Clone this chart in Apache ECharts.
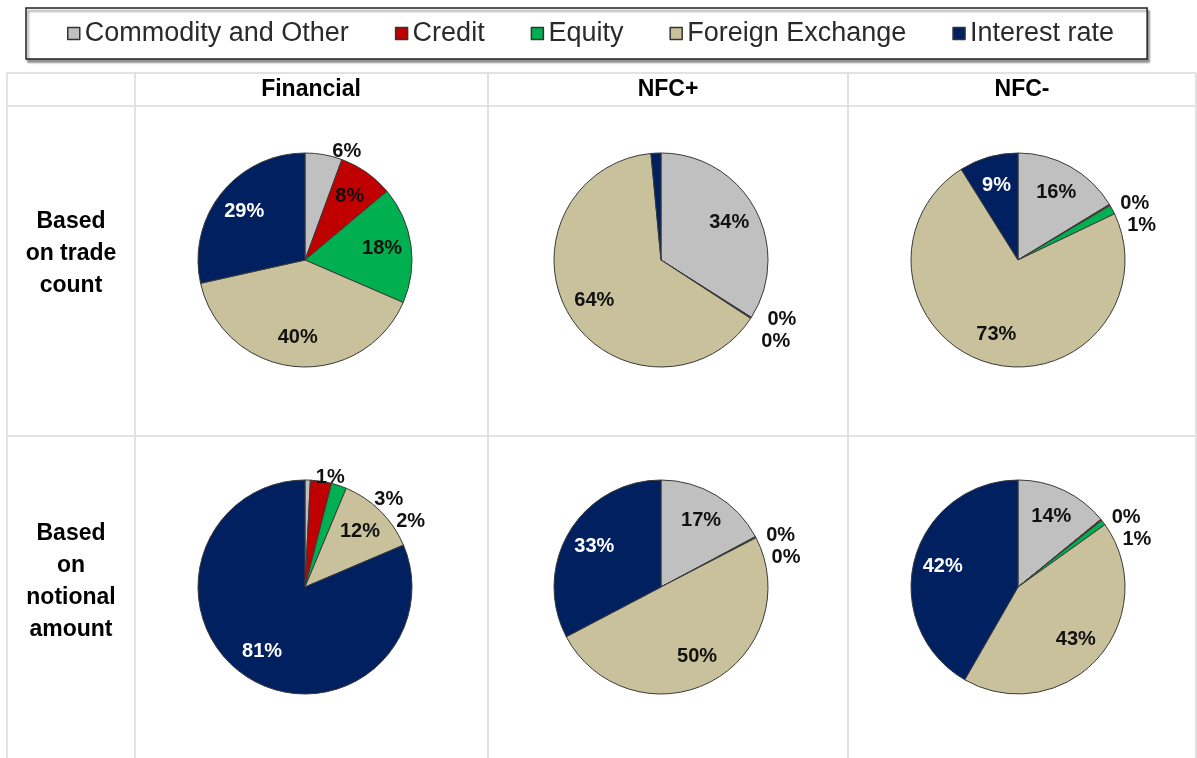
<!DOCTYPE html>
<html>
<head>
<meta charset="utf-8">
<script src="https://cdn.jsdelivr.net/npm/echarts@6/dist/echarts.min.js"></script>
<style>
  html, body { margin: 0; padding: 0; background: #fff; }
  #chart { width: 1197px; height: 758px; }
</style>
</head>
<body>
<div id="chart"></div>
<script>
  // asset classes, clockwise from 12 o'clock
  var categories = ['Commodity and Other', 'Credit', 'Equity', 'Foreign Exchange', 'Interest rate'];
  var columns = ['Financial', 'NFC+', 'NFC-'];
  var rows = ['Based\non trade\ncount', 'Based\non\nnotional\namount'];

  // shares in %, same order as categories
  var financialTrades = [5.6, 8.3, 17.6, 40.0, 28.5];
  var nfcPlusTrades = [34.0, 0.1, 0.1, 64.3, 1.5];
  var nfcMinusTrades = [16.3, 0.2, 1.4, 73.2, 8.9];
  var financialNotional = [0.8, 3.2, 2.3, 12.3, 81.4];
  var nfcPlusNotional = [17.2, 0.1, 0.1, 49.9, 32.7];
  var nfcMinusNotional = [14.1, 0.2, 0.8, 43.2, 41.7];

  var colors = ['#c0c0c0', '#c00000', '#00b050', '#c9c19b', '#002060'];

  var panels = [
    { values: financialTrades, col: 0, row: 0 },
    { values: nfcPlusTrades, col: 1, row: 0, noLabel: ['Interest rate'] },
    { values: nfcMinusTrades, col: 2, row: 0 },
    { values: financialNotional, col: 0, row: 1 },
    { values: nfcPlusNotional, col: 1, row: 1 },
    { values: nfcMinusNotional, col: 2, row: 1 }
  ];

  var pieX = [305, 661, 1018];
  var pieY = [260, 587];
  var R = 107;
  var font = '"Liberation Sans", Arial, sans-serif';

  var myChart = echarts.init(document.getElementById('chart'));

  function pct(p) {
    return Math.round(p.value) + '%';
  }

  // sectors + small outside labels
  var pieSeries = panels.map(function (p) {
    return {
      type: 'pie',
      center: [pieX[p.col], pieY[p.row]],
      radius: [0, R],
      startAngle: 90,
      silent: true,
      animation: false,
      avoidLabelOverlap: true,
      itemStyle: { borderColor: '#3a3a3a', borderWidth: 1 },
      label: {
        position: 'outside',
        formatter: pct,
        fontFamily: font,
        fontWeight: 'bold',
        fontSize: 20,
        color: '#111'
      },
      labelLine: { show: false, length: 3, length2: 3, lineStyle: { color: '#111', width: 1 } },
      data: categories.map(function (name, i) {
        var v = p.values[i];
        var small = v < 7 && !(p.noLabel && p.noLabel.indexOf(name) >= 0);
        return {
          name: name,
          value: v,
          itemStyle: { color: colors[i] },
          label: { show: small }
        };
      })
    };
  });

  // transparent ring that carries the inside labels a bit further out
  var labelSeries = panels.map(function (p) {
    return {
      type: 'pie',
      center: [pieX[p.col], pieY[p.row]],
      radius: [R * 0.4, R],
      startAngle: 90,
      silent: true,
      animation: false,
      itemStyle: { color: 'rgba(0,0,0,0)', borderWidth: 0 },
      label: {
        position: 'inside',
        formatter: pct,
        fontFamily: font,
        fontWeight: 'bold',
        fontSize: 20
      },
      labelLine: { show: false },
      data: categories.map(function (name, i) {
        var v = p.values[i];
        return {
          name: name,
          value: v,
          itemStyle: { color: 'rgba(0,0,0,0)' },
          label: { show: v >= 7, color: name == 'Interest rate' ? '#fff' : '#111' }
        };
      })
    };
  });

  // table lines
  var gridColor = '#e2e2e2';
  var lines = [
    [7, 73, 1196, 73], [7, 106, 1196, 106], [7, 436, 1196, 436],
    [7, 73, 7, 758], [135, 73, 135, 758], [488, 73, 488, 758], [848, 73, 848, 758], [1196, 73, 1196, 758]
  ];
  var graphics = lines.map(function (l) {
    return {
      type: 'line',
      silent: true,
      shape: { x1: l[0], y1: l[1], x2: l[2], y2: l[3] },
      style: { stroke: gridColor, lineWidth: 2 }
    };
  });
  var colCenter = [311, 668, 1022];
  columns.forEach(function (c, i) {
    graphics.push({
      type: 'text',
      silent: true,
      style: {
        text: c, x: colCenter[i], y: 90,
        align: 'center', verticalAlign: 'middle',
        font: 'bold 23px ' + font, fill: '#000'
      }
    });
  });
  rows.forEach(function (r, i) {
    graphics.push({
      type: 'text',
      silent: true,
      style: {
        text: r, x: 71, y: [254, 582][i],
        align: 'center', verticalAlign: 'middle',
        font: 'bold 23px ' + font, fill: '#000', lineHeight: 32
      }
    });
  });

  var option = {
    backgroundColor: '#fff',
    animation: false,
    legend: {
      data: categories,
      top: 8,
      left: 26,
      itemWidth: 12,
      itemHeight: 12,
      itemGap: 46,
      icon: 'rect',
      padding: [12, 33, 12, 41],
      borderColor: '#222',
      borderWidth: 1.5,
      shadowColor: 'rgba(0,0,0,0.4)',
      shadowBlur: 2,
      shadowOffsetX: 2,
      shadowOffsetY: 3,
      backgroundColor: '#fff',
      itemStyle: { borderColor: '#333', borderWidth: 1.5 },
      textStyle: {
        fontFamily: font,
        fontSize: 27,
        color: '#2a2a2a'
      },
      selectedMode: false
    },
    graphic: graphics,
    series: pieSeries.concat(labelSeries)
  };
  myChart.setOption(option);
</script>
</body>
</html>
